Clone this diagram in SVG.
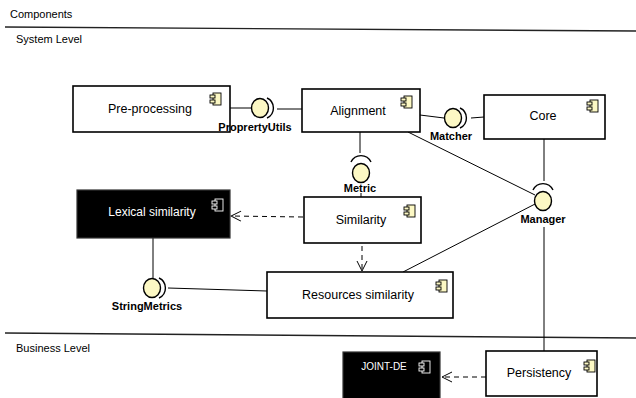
<svg xmlns="http://www.w3.org/2000/svg" width="636" height="398" viewBox="0 0 636 398">
  <defs>
    <style>
      .title { font-family: "Liberation Sans", Arial, sans-serif; font-size: 11px; fill: #000; }
      .box { fill: #fff; stroke: #000; stroke-width: 1.6; }
      .dark { fill: #000; stroke: #333; stroke-width: 1.2; }
      .name { font-family: "Liberation Sans", Arial, sans-serif; font-size: 12.5px; fill: #000; text-anchor: middle; }
      .name-w { font-family: "Liberation Sans", Arial, sans-serif; font-size: 12px; fill: #fff; text-anchor: middle; }
      .iface { font-family: "Liberation Sans", Arial, sans-serif; font-size: 11px; font-weight: bold; fill: #000; text-anchor: middle; }
      .ball { fill: #fcf8c4; stroke: #000; stroke-width: 1.4; }
      .sock { fill: none; stroke: #000; stroke-width: 1.4; }
      .wire { fill: none; stroke: #000; stroke-width: 1; }
      .dep { fill: none; stroke: #000; stroke-width: 1; stroke-dasharray: 5 4; }
      .sep { fill: none; stroke: #222; stroke-width: 1.4; }
      .ico { fill: #fcf8c4; stroke: #000; stroke-width: 0.9; }
      .ico-w { fill: #000; stroke: #fff; stroke-width: 0.9; }
    </style>
    <!-- UML component glyph; paint is inherited from the <use> -->
    <g id="compIcon">
      <rect x="-3" y="-6" width="8" height="12"/>
      <rect x="-6" y="-4" width="5" height="3"/>
      <rect x="-6" y="1" width="5" height="3"/>
    </g>
    <marker id="open" viewBox="0 0 12 12" refX="11" refY="6" markerWidth="12" markerHeight="12" markerUnits="userSpaceOnUse" orient="auto">
      <path d="M1,1 L11,6 L1,11" fill="none" stroke="#000" stroke-width="1"/>
    </marker>
  </defs>

  <rect width="636" height="398" fill="#fff"/>

  <!-- package frames -->
  <text class="title" x="10" y="18">Components</text>
  <path class="sep" d="M5,27 L636,31"/>
  <text class="title" x="16" y="43">System Level</text>
  <path class="sep" d="M5,333 L636,338"/>
  <text class="title" x="16" y="352">Business Level</text>

  <!-- connectors -->
  <g id="connectors">
    <!-- Pre-processing / Alignment via ProprertyUtils -->
    <line class="wire" x1="230" y1="108" x2="251" y2="108"/>
    <line class="wire" x1="277" y1="109" x2="302" y2="109"/>
    <!-- Alignment / Core via Matcher -->
    <line class="wire" x1="420" y1="115" x2="444" y2="118"/>
    <line class="wire" x1="471" y1="118" x2="484" y2="117"/>
    <!-- Alignment / Similarity via Metric -->
    <line class="wire" x1="360" y1="132" x2="360" y2="153"/>
    <line class="wire" x1="361" y1="193" x2="361" y2="197"/>
    <!-- Manager -->
    <line class="wire" x1="544" y1="139" x2="544" y2="181"/>
    <line class="wire" x1="408" y1="132" x2="535" y2="195"/>
    <line class="wire" x1="537" y1="203" x2="403" y2="272"/>
    <line class="wire" x1="544" y1="227" x2="544" y2="351"/>
    <!-- Lexical / Resources via StringMetrics -->
    <line class="wire" x1="153" y1="238" x2="153" y2="279"/>
    <line class="wire" x1="168" y1="288" x2="267" y2="291"/>
    <!-- dependencies -->
    <line class="dep" x1="303" y1="217" x2="231" y2="216" marker-end="url(#open)"/>
    <line class="dep" x1="362" y1="246" x2="362" y2="271" marker-end="url(#open)"/>
    <line class="dep" x1="486" y1="377" x2="442" y2="377" marker-end="url(#open)"/>
  </g>

  <!-- components -->
  <g id="PreProcessing">
    <rect class="box" x="73" y="86" width="157" height="46"/>
    <text class="name" x="150" y="113">Pre-processing</text>
    <use href="#compIcon" class="ico" x="216" y="99"/>
  </g>
  <g id="Alignment">
    <rect class="box" x="302" y="89" width="118" height="43"/>
    <text class="name" x="358" y="115">Alignment</text>
    <use href="#compIcon" class="ico" x="407" y="102"/>
  </g>
  <g id="Core">
    <rect class="box" x="484" y="95" width="121" height="44"/>
    <text class="name" x="543" y="120">Core</text>
    <use href="#compIcon" class="ico" x="593" y="106"/>
  </g>
  <g id="LexicalSimilarity">
    <rect class="dark" x="77" y="190" width="153" height="48"/>
    <text class="name-w" x="152" y="216">Lexical similarity</text>
    <use href="#compIcon" class="ico-w" x="218" y="205"/>
  </g>
  <g id="Similarity">
    <rect class="box" x="304" y="197" width="117" height="46"/>
    <text class="name" x="361" y="224">Similarity</text>
    <use href="#compIcon" class="ico" x="410" y="211"/>
  </g>
  <g id="ResourcesSimilarity">
    <rect class="box" x="267" y="272" width="186" height="46"/>
    <text class="name" x="358" y="299">Resources similarity</text>
    <use href="#compIcon" class="ico" x="442" y="286"/>
  </g>
  <g id="Persistency">
    <rect class="box" x="486" y="351" width="111" height="45"/>
    <text class="name" x="539" y="377">Persistency</text>
    <use href="#compIcon" class="ico" x="590" y="366"/>
  </g>
  <g id="JointDE">
    <rect class="dark" x="343" y="352" width="97" height="50"/>
    <text class="name-w" x="384" y="370" style="font-size:10px">JOINT-DE</text>
    <use href="#compIcon" class="ico-w" x="425" y="367"/>
  </g>

  <!-- provided / required interfaces -->
  <g id="ProprertyUtils">
    <ellipse class="ball" cx="260" cy="108" rx="8.5" ry="9.5"/>
    <path class="sock" d="M267,98 A11,11 0 0 1 267,118"/>
    <text class="iface" x="255" y="131">ProprertyUtils</text>
  </g>
  <g id="Matcher">
    <ellipse class="ball" cx="453" cy="118" rx="8.5" ry="9.5"/>
    <path class="sock" d="M460,108 A11,11 0 0 1 460,128"/>
    <text class="iface" x="451" y="140">Matcher</text>
  </g>
  <g id="Metric">
    <ellipse class="ball" cx="361" cy="173" rx="8.5" ry="9.5"/>
    <path class="sock" d="M351,162 A11,11 0 0 1 371,162"/>
    <text class="iface" x="360" y="192">Metric</text>
  </g>
  <g id="Manager">
    <ellipse class="ball" cx="543" cy="201" rx="8.5" ry="9.5"/>
    <path class="sock" d="M533,190 A11,11 0 0 1 553,190"/>
    <text class="iface" x="543" y="223">Manager</text>
  </g>
  <g id="StringMetrics">
    <ellipse class="ball" cx="152" cy="288" rx="8.5" ry="9.5"/>
    <path class="sock" d="M159,278 A11,11 0 0 1 159,298"/>
    <text class="iface" x="147" y="310">StringMetrics</text>
  </g>
</svg>
